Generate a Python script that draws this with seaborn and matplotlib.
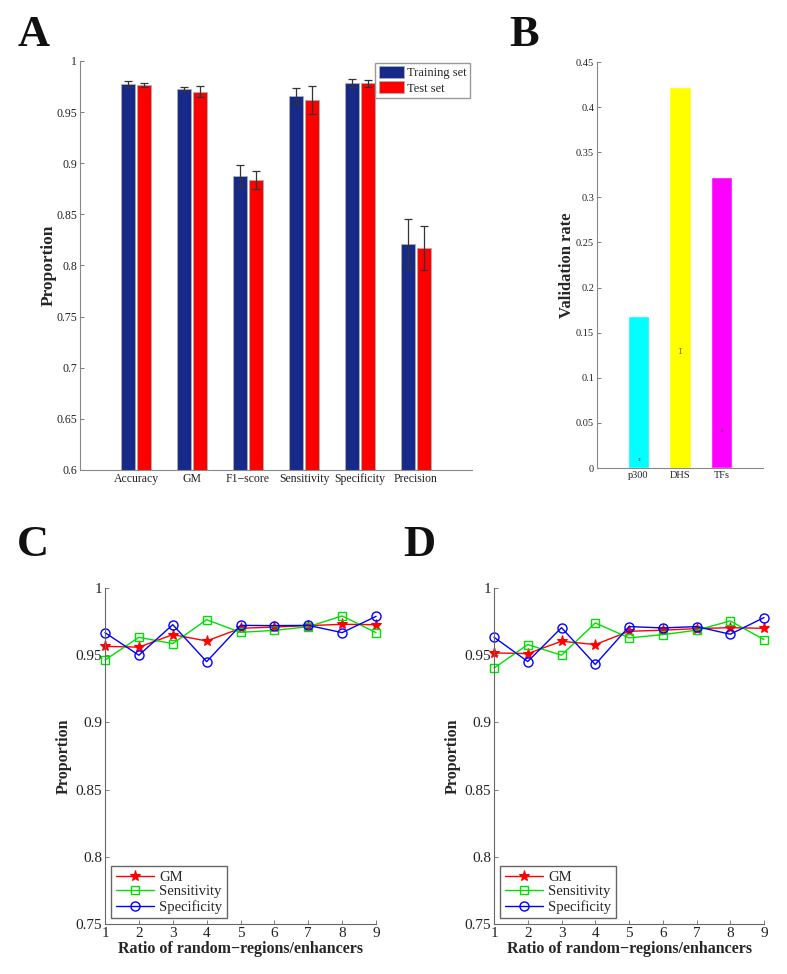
import numpy as np
import pandas as pd
import matplotlib
matplotlib.use("Agg")
import matplotlib.pyplot as plt
from matplotlib.ticker import FuncFormatter
import seaborn as sns

# panel A: model performance (training vs test)
metrics = ['Accuracy', 'GM', 'F1\u2212score', 'Sensitivity', 'Specificity', 'Precision']
train_vals = [0.9775, 0.9723, 0.8875, 0.9660, 0.9788, 0.8214]
train_err = [0.0028, 0.0020, 0.0110, 0.0080, 0.0038, 0.0240]
test_vals = [0.9765, 0.9700, 0.8833, 0.9619, 0.9780, 0.8171]
test_err = [0.0023, 0.0054, 0.0088, 0.0134, 0.0036, 0.0212]

# panel B: validation rate
val_cats = ['p300', 'DHS', 'TFs']
val_rate = [0.168, 0.422, 0.323]
val_mark = [0.010, 0.130, 0.042]   # the tiny error marks near the bar bottoms
val_mark_err = [0.0015, 0.0025, 0.0015]
val_colors = ['#00ffff', '#ffff00', '#ff00ff']

# panels C and D: ratio of random regions / enhancers
ratios = [1, 2, 3, 4, 5, 6, 7, 8, 9]
c_gm = [0.9566, 0.9560, 0.9653, 0.9606, 0.9700, 0.9710, 0.9720, 0.9730, 0.9727]
c_sens = [0.9464, 0.9633, 0.9586, 0.9764, 0.9670, 0.9685, 0.9712, 0.9792, 0.9668]
c_spec = [0.9668, 0.9500, 0.9727, 0.9452, 0.9722, 0.9720, 0.9722, 0.9668, 0.9789]
d_gm = [0.9517, 0.9512, 0.9604, 0.9579, 0.9678, 0.9686, 0.9698, 0.9705, 0.9700]
d_sens = [0.9404, 0.9579, 0.9500, 0.9740, 0.9629, 0.9653, 0.9686, 0.9755, 0.9616]
d_spec = [0.9634, 0.9453, 0.9705, 0.9431, 0.9713, 0.9703, 0.9713, 0.9656, 0.9780]

sns.set_style("white")
plt.rcParams['font.family'] = ['Liberation Serif', 'DejaVu Serif']
plt.rcParams['axes.edgecolor'] = '#777777'
plt.rcParams['xtick.direction'] = 'in'
plt.rcParams['ytick.direction'] = 'in'

fmt = FuncFormatter(lambda v, p: '%g' % round(v, 4))

fig = plt.figure(figsize=(7.87, 9.74), dpi=100)


def matlab_axes(ax, fs):
    sns.despine(ax=ax)
    for s in ['left', 'bottom']:
        ax.spines[s].set_linewidth(0.8)
        ax.spines[s].set_color('#888888')
    ax.tick_params(axis='both', labelsize=fs, length=3, width=0.6, color='#666666',
                   labelcolor='#222222', pad=2, left=True, bottom=True)
    ax.yaxis.set_major_formatter(fmt)


# ---- A ----
axA = fig.add_axes([0.1017, 0.5175, 0.4981, 0.4199])
dfA = pd.DataFrame({
    'metric': metrics * 2,
    'value': train_vals + test_vals,
    'set': ['Training set'] * len(metrics) + ['Test set'] * len(metrics),
})
sns.barplot(data=dfA, x='metric', y='value', hue='set',
            palette={'Training set': '#172a8a', 'Test set': '#ff0000'},
            width=0.58, gap=0.12, errorbar=None, edgecolor='#b0b0b0',
            linewidth=0.6, saturation=1, ax=axA)
for cont, errs in zip(axA.containers, [train_err, test_err]):
    xs = [p.get_x() + p.get_width() / 2 for p in cont]
    ys = [p.get_height() for p in cont]
    axA.errorbar(xs, ys, yerr=errs, fmt='none', ecolor='#333333',
                 elinewidth=0.9, capsize=3, capthick=0.9)
axA.set_xlim(-1, 6)
axA.set_ylim(0.6, 1.0)
axA.set_yticks(np.arange(0.6, 1.001, 0.05))
axA.set_xlabel('')
axA.set_ylabel('Proportion', fontsize=12.5, fontweight='bold', labelpad=0)
matlab_axes(axA, 8.5)
axA.tick_params(axis='x', length=0)
axA.legend(loc='upper right', bbox_to_anchor=(0.995, 0.995), fontsize=9,
           frameon=True, fancybox=False, edgecolor='#999999', borderaxespad=0,
           handlelength=2.0, handleheight=1.1, handletextpad=0.3,
           borderpad=0.25, labelspacing=0.15, framealpha=1)

# ---- B ----
axB = fig.add_axes([0.7586, 0.5195, 0.2109, 0.4168])
sns.barplot(x=val_cats, y=val_rate, hue=val_cats, palette=val_colors,
            legend=False, width=0.52, saturation=1, errorbar=None, ax=axB)
xsB = [p.get_x() + p.get_width() / 2 for p in axB.patches]
axB.errorbar(xsB, val_mark, yerr=val_mark_err, fmt='none',
             ecolor='#555555', elinewidth=0.5, capsize=0.8, capthick=0.5)
axB.set_xlim(-1, 3)
axB.set_ylim(0, 0.45)
axB.set_yticks(np.arange(0, 0.451, 0.05))
axB.set_ylabel('Validation rate', fontsize=12, fontweight='bold', labelpad=0.5)
matlab_axes(axB, 7.5)
axB.tick_params(axis='x', length=0)


# ---- C and D ----
def ratio_panel(rect, gm, sens, spec):
    ax = fig.add_axes(rect)
    sns.lineplot(x=ratios, y=gm, color='#ff0000', marker='*', ms=8,
                 mec='#ff0000', mfc='#ff0000', mew=0.8, lw=1, label='GM',
                 clip_on=False, ax=ax)
    sns.lineplot(x=ratios, y=sens, color='#00e000', marker='s', ms=5.5,
                 mec='#00e000', mfc='none', mew=1, lw=1, label='Sensitivity',
                 clip_on=False, ax=ax)
    sns.lineplot(x=ratios, y=spec, color='#0000ff', marker='o', ms=6.5,
                 mec='#0000ff', mfc='none', mew=1, lw=1, label='Specificity',
                 clip_on=False, ax=ax)
    ax.set_xlim(1, 9)
    ax.set_ylim(0.75, 1.0)
    ax.set_xticks(ratios)
    ax.set_yticks(np.arange(0.75, 1.001, 0.05))
    ax.set_xlabel('Ratio of random\u2212regions/enhancers', fontsize=11.5,
                  fontweight='bold', labelpad=1)
    ax.set_ylabel('Proportion', fontsize=11.5, fontweight='bold', labelpad=3)
    matlab_axes(ax, 11)
    ax.spines['left'].set_color('#666666')
    ax.spines['bottom'].set_color('#666666')
    ax.legend(loc='lower left', bbox_to_anchor=(0.023, 0.018), fontsize=10.5,
              frameon=True, fancybox=False, edgecolor='#666666', borderaxespad=0,
              handlelength=2.6, handletextpad=0.4, borderpad=0.3,
              labelspacing=0.1, framealpha=1)
    return ax


ratio_panel([0.1334, 0.0513, 0.3444, 0.3450], c_gm, c_sens, c_spec)
ratio_panel([0.6277, 0.0513, 0.3431, 0.3450], d_gm, d_sens, d_spec)

# panel letters
for lbl, x, y in [('A', 0.022, 0.953), ('B', 0.647, 0.953),
                  ('C', 0.022, 0.429), ('D', 0.512, 0.429)]:
    fig.text(x, y, lbl, fontsize=32, fontweight='bold', color='#111111')

fig.savefig('out.png', dpi=100)
